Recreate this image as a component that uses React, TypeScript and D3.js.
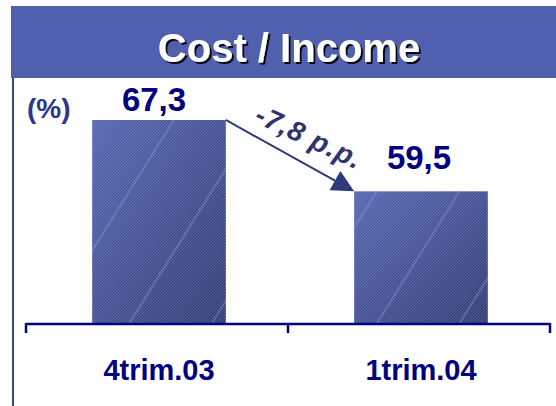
import React from "react";
import * as d3 from "d3";

const categories = ["4trim.03", "1trim.04"];
const values = [67.3, 59.5];
const valueLabels = ["67,3", "59,5"];
const title = "Cost / Income";
const unitLabel = "(%)";
const deltaLabel = "-7,8 p.p.";

const W = 556;
const H = 406;
const labelGap = [9, 22];
const labelShift = [-5, -2];

export default function App() {
  const x = d3.scaleBand<string>().domain(categories).range([26, 550]).padding(0);
  const y = d3.scaleLinear().domain([45, 72]).range([324, 77]);
  const barW = x.bandwidth() * 0.51;
  const cx = (c: string) => (x(c) as number) + x.bandwidth() / 2 + 2;

  const x0 = cx(categories[0]) + barW / 2;
  const y0 = y(values[0]);
  const x1 = cx(categories[1]) - barW / 2;
  const y1 = y(values[1]);
  const ang = Math.atan2(y1 - y0, x1 - x0);
  const headLen = 22;
  const headHalf = 11;
  const bx = x1 - headLen * Math.cos(ang);
  const by = y1 - headLen * Math.sin(ang);
  const px = -Math.sin(ang);
  const py = Math.cos(ang);
  const head = `${x1},${y1} ${bx + px * headHalf},${by + py * headHalf} ${bx - px * headHalf},${by - py * headHalf}`;
  const mx = (x0 + x1) / 2;
  const my = (y0 + y1) / 2;

  const ticks = [26, ...categories.map((c) => (x(c) as number) + x.bandwidth())];

  return (
    <svg width={W} height={H} style={{ position: "absolute", left: 0, top: 0 }}>
      <defs>
        <linearGradient id="barGrad" x1="0" y1="0" x2="1" y2="1">
          <stop offset="0%" stopColor="#5666B2" />
          <stop offset="100%" stopColor="#323C74" />
        </linearGradient>
        <pattern id="fine" patternUnits="userSpaceOnUse" width="3" height="3">
          <path d="M0,3 L3,0" stroke="rgba(255,255,255,0.16)" strokeWidth="1" />
        </pattern>
        <pattern id="broad" patternUnits="userSpaceOnUse" width="70" height="10" patternTransform="rotate(32)">
          <rect x="0" y="0" width="2" height="10" fill="rgba(140,160,230,0.35)" />
        </pattern>
        <filter id="shadow" x="-10%" y="-10%" width="130%" height="140%">
          <feDropShadow dx="2" dy="2" stdDeviation="0.6" floodColor="#000" floodOpacity="0.9" />
        </filter>
      </defs>
      <rect x={0} y={0} width={W} height={H} fill="#fff" />
      <rect x={11} y={6} width={545} height={72} fill="#5060AE" />
      <text
        x={289}
        y={62}
        textAnchor="middle"
        fontFamily="Liberation Sans, Arial, sans-serif"
        fontWeight="bold"
        fontSize={40}
        fill="#fff"
        filter="url(#shadow)"
      >
        {title}
      </text>
      <line x1={13} y1={78} x2={13} y2={406} stroke="#3B45A0" strokeWidth={2} />
      <text x={27} y={118} fontFamily="Liberation Sans, Arial, sans-serif" fontWeight="bold" fontSize={28} fill="#2D3590">
        {unitLabel}
      </text>
      {categories.map((c, i) => (
        <g key={c}>
          <rect x={cx(c) - barW / 2} y={y(values[i])} width={barW} height={324 - y(values[i])} fill="url(#barGrad)" />
          <rect x={cx(c) - barW / 2} y={y(values[i])} width={barW} height={324 - y(values[i])} fill="url(#fine)" />
          <rect x={cx(c) - barW / 2} y={y(values[i])} width={barW} height={324 - y(values[i])} fill="url(#broad)" />
          <text
            x={cx(c) + labelShift[i]}
            y={y(values[i]) - labelGap[i]}
            textAnchor="middle"
            fontFamily="Liberation Sans, Arial, sans-serif"
            fontWeight="bold"
            fontSize={33}
            fill="#000080"
          >
            {valueLabels[i]}
          </text>
          <text
            x={cx(c)}
            y={380}
            textAnchor="middle"
            fontFamily="Liberation Sans, Arial, sans-serif"
            fontWeight="bold"
            fontSize={29}
            fill="#000080"
          >
            {c}
          </text>
        </g>
      ))}
      <line x1={26} y1={324} x2={550} y2={324} stroke="#00008B" strokeWidth={2.5} />
      {ticks.map((t, i) => (
        <line key={i} x1={t} y1={323} x2={t} y2={333} stroke="#00008B" strokeWidth={2.5} />
      ))}
      <line x1={x0} y1={y0} x2={bx} y2={by} stroke="#2E3A7A" strokeWidth={2} />
      <polygon points={head} fill="#2E3A7A" />
      <text
        transform={`translate(${mx + 15},${my - 10}) rotate(25)`}
        textAnchor="middle"
        fontFamily="Liberation Sans, Arial, sans-serif"
        fontWeight="bold"
        fontStyle="italic"
        fontSize={28}
        letterSpacing={1}
        fill="#2E3470"
      >
        {deltaLabel}
      </text>
    </svg>
  );
}
